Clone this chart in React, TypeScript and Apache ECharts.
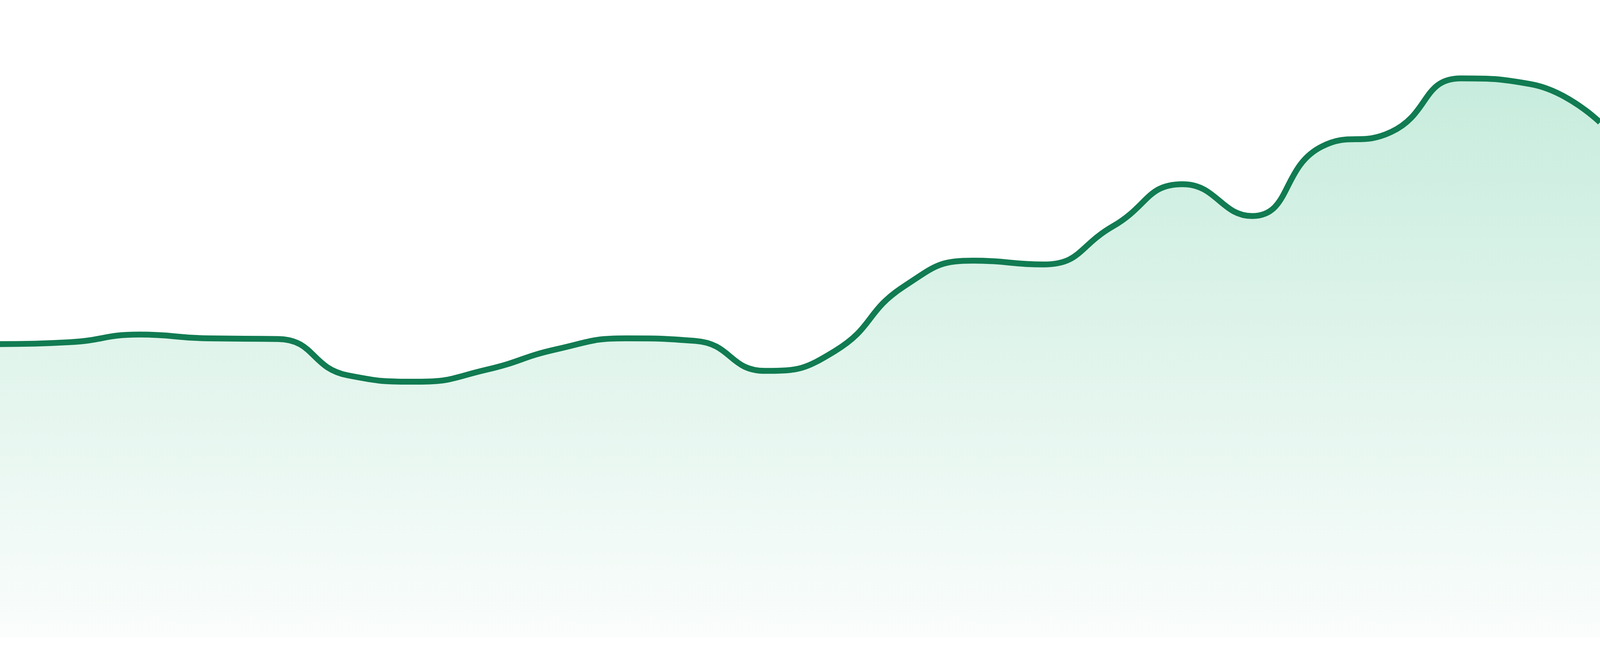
import React, { useEffect, useRef } from "react";
import * as echarts from "echarts";

const categories: string[] = [
  "Jan 23", "Feb 23", "Mar 23", "Apr 23", "May 23", "Jun 23",
  "Jul 23", "Aug 23", "Sep 23", "Oct 23", "Nov 23", "Dec 23",
  "Jan 24", "Feb 24", "Mar 24", "Apr 24", "May 24", "Jun 24",
  "Jul 24", "Aug 24", "Sep 24", "Oct 24", "Nov 24", "Dec 24",
];

const values: number[] = [
  46.0, 46.3, 47.5, 46.9, 46.8, 41.1,
  40.1, 42.0, 45.2, 46.9, 46.5, 41.8,
  44.9, 55.1, 59.1, 58.5, 64.5, 71.1,
  66.1, 77.0, 79.3, 87.7, 86.8, 80.8,
];

const yMin = 0;
const yMax = 100;

export default function App() {
  const ref = useRef<HTMLDivElement>(null);

  useEffect(() => {
    document.body.style.margin = "0";
    document.body.style.overflow = "hidden";
    if (!ref.current) return;
    const chart = echarts.init(ref.current, undefined, { renderer: "svg" });
    chart.setOption({
      animation: false,
      backgroundColor: "#ffffff",
      grid: { left: 0, right: 0, top: 0, bottom: 48 },
      xAxis: {
        type: "category",
        data: categories,
        boundaryGap: false,
        show: false,
      },
      yAxis: {
        type: "value",
        min: yMin,
        max: yMax,
        show: false,
      },
      series: [
        {
          type: "line",
          data: values,
          smooth: true,
          showSymbol: false,
          lineStyle: { color: "#117b52", width: 15 },
          areaStyle: {
            color: new echarts.graphic.LinearGradient(0, 0, 0, 1, [
              { offset: 0, color: "rgb(175,228,206)" },
              { offset: 1, color: "rgb(248,252,250)" },
            ]),
          },
        },
      ],
    });
    return () => chart.dispose();
  }, []);

  return <div ref={ref} style={{ width: "100%", height: 1680 }} />;
}
